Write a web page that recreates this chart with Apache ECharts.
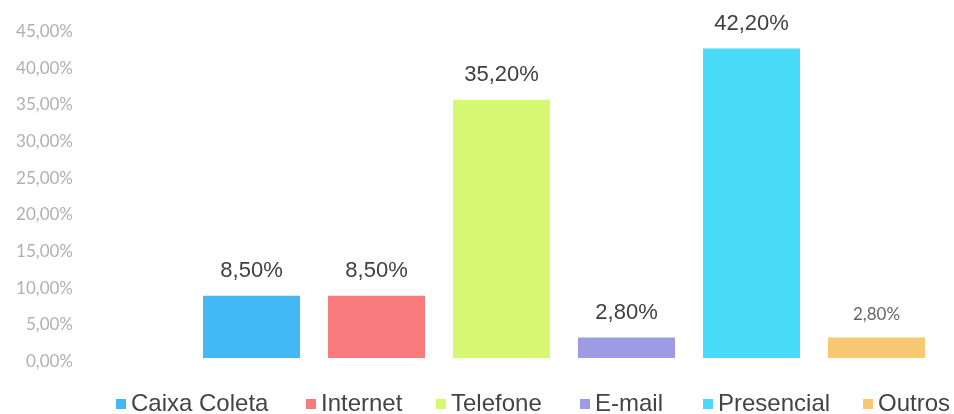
<!DOCTYPE html>
<html>
<head>
<meta charset="utf-8">
<script src="https://cdn.jsdelivr.net/npm/echarts@6/dist/echarts.min.js"></script>
<style>
  html, body { margin: 0; padding: 0; background: #ffffff; }
  #chart { width: 954px; height: 414px; }
</style>
</head>
<body>
<div id="chart"></div>
<script>
// Canais de atendimento (percentual)
const categories = ['Caixa Coleta', 'Internet', 'Telefone', 'E-mail', 'Presencial', 'Outros'];
const values = [8.5, 8.5, 35.2, 2.8, 42.2, 2.8];

// Aparência
const palette = ['#42b8f4', '#f87a7c', '#d6f872', '#9d9ae6', '#48dcf8', '#f8c872'];
const legendLeft = [116, 306, 436, 580, 703, 863];

const fmt = v => Number(v).toFixed(2).replace('.', ',') + '%';

const series = categories.map((name, i) => ({
  name: name,
  type: 'bar',
  stack: 'total',
  barWidth: 97,
  data: values.map((v, j) => (j === i ? v : '-')),
  itemStyle: { color: palette[i] },
  label: {
    show: true,
    position: 'top',
    distance: 14,
    formatter: p => fmt(p.value),
    fontFamily: i === 5 ? 'Lato' : '"Liberation Sans", Arial, sans-serif',
    fontSize: i === 5 ? 17 : 22,
    color: i === 5 ? '#666666' : '#404040'
  }
}));

const legends = categories.map((name, i) => ({
  data: [name],
  left: legendLeft[i],
  top: 392,
  icon: 'rect',
  itemWidth: 10,
  itemHeight: 10,
  padding: 0,
  textStyle: {
    fontFamily: '"Liberation Sans", Arial, sans-serif',
    fontSize: 24,
    color: '#444444'
  }
}));

const chart = echarts.init(document.getElementById('chart'), null, { renderer: 'canvas' });
chart.setOption({
  animation: false,
  backgroundColor: '#ffffff',
  grid: { left: 189, right: 15, top: 28, bottom: 56, containLabel: false },
  legend: legends,
  xAxis: {
    type: 'category',
    data: categories,
    axisLine: { show: false },
    axisTick: { show: false },
    axisLabel: { show: false },
    splitLine: { show: false }
  },
  yAxis: {
    type: 'value',
    min: 0,
    max: 45,
    interval: 5,
    axisLine: { show: false },
    axisTick: { show: false },
    splitLine: { show: false },
    axisLabel: {
      margin: 116,
      formatter: v => '{t|' + fmt(v) + '}',
      rich: {
        t: {
          padding: [7, 0, 0, 0],
          fontFamily: 'Lato',
          fontSize: 17,
          color: '#b0b0b0'
        }
      }
    }
  },
  series: series
});
</script>
</body>
</html>
